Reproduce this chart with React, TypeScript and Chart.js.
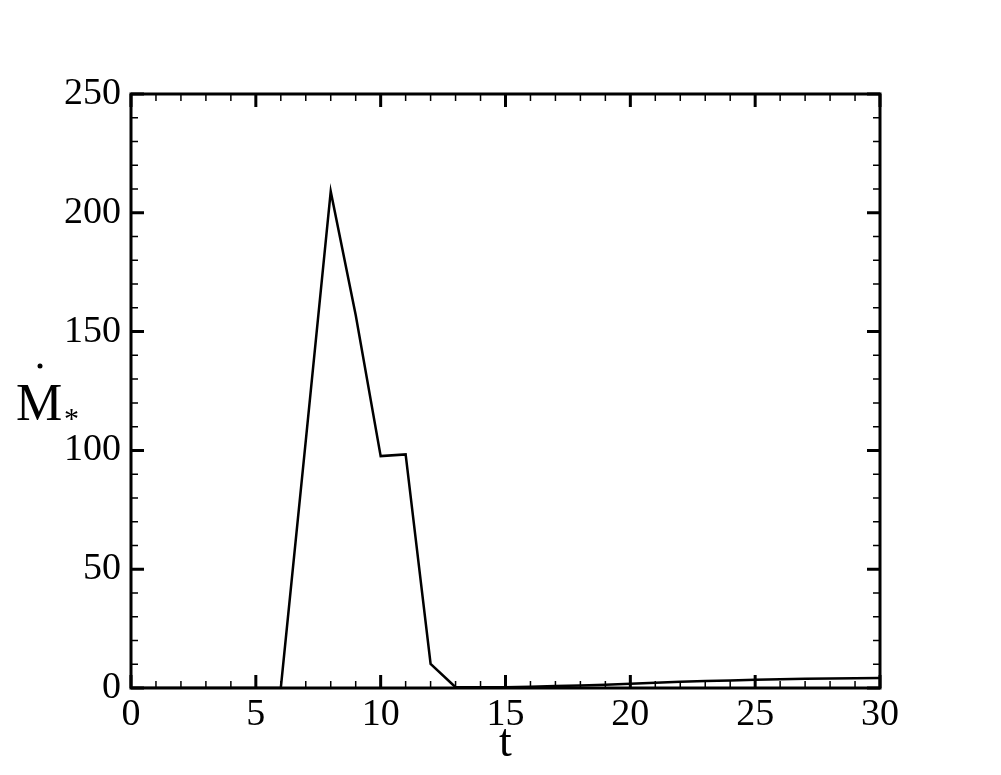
import React, { useEffect, useRef } from "react";
import { Chart, registerables } from "chart.js";

Chart.register(...registerables);

const times: number[] = [0,1,2,3,4,5,6,7,8,9,10,11,12,13,14,15,16,17,18,19,20,21,22,23,24,25,26,27,28,29,30];
const massRate: number[] = [0,0,0,0,0,0,0,104,209,157,97.6,98.3,10.1,0.3,0.3,0.3,0.5,0.8,1.0,1.4,1.8,2.2,2.6,2.9,3.2,3.5,3.7,3.9,4.0,4.1,4.2];
const xTicks: number[] = [0,5,10,15,20,25,30];
const yTicks: number[] = [0,50,100,150,200,250];

const FONT = "'Liberation Serif', 'DejaVu Serif', serif";

const framePlugin = {
  id: "frame",
  afterDraw(chart: any) {
    const ctx = chart.ctx;
    const xs = chart.scales.x;
    const ys = chart.scales.y;
    const L = xs.getPixelForValue(0);
    const R = xs.getPixelForValue(30);
    const T = ys.getPixelForValue(250);
    const B = ys.getPixelForValue(0);
    ctx.save();
    ctx.strokeStyle = "#000";
    ctx.lineWidth = 3;
    ctx.lineCap = "square";
    ctx.strokeRect(L, T, R - L, B - T);
    ctx.lineWidth = 1.5;
    ctx.lineCap = "butt";
    ctx.beginPath();
    for (let v = 0; v <= 30; v++) {
      const p = xs.getPixelForValue(v);
      const len = v % 5 === 0 ? 13 : 7;
      ctx.moveTo(p, B); ctx.lineTo(p, B - len);
      ctx.moveTo(p, T); ctx.lineTo(p, T + len);
    }
    for (let v = 0; v <= 250; v += 10) {
      const p = ys.getPixelForValue(v);
      const len = v % 50 === 0 ? 13 : 7;
      ctx.moveTo(L, p); ctx.lineTo(L + len, p);
      ctx.moveTo(R, p); ctx.lineTo(R - len, p);
    }
    ctx.stroke();
    ctx.lineWidth = 3;
    ctx.beginPath();
    for (const v of xTicks) {
      const p = xs.getPixelForValue(v);
      ctx.moveTo(p, B); ctx.lineTo(p, B - 13);
      ctx.moveTo(p, T); ctx.lineTo(p, T + 13);
    }
    for (const v of yTicks) {
      const p = ys.getPixelForValue(v);
      ctx.moveTo(L, p); ctx.lineTo(L + 13, p);
      ctx.moveTo(R, p); ctx.lineTo(R - 13, p);
    }
    ctx.stroke();

    ctx.fillStyle = "#000";
    ctx.font = `46px ${FONT}`;
    ctx.textAlign = "center";
    ctx.textBaseline = "alphabetic";
    ctx.fillText("t", (L + R) / 2, 756);
    ctx.font = `52px ${FONT}`;
    ctx.textAlign = "left";
    ctx.fillText("M", 16, 420);
    ctx.beginPath();
    ctx.arc(40, 366, 2.5, 0, Math.PI * 2);
    ctx.fill();
    ctx.font = `30px ${FONT}`;
    ctx.fillText("*", 64, 428);
    ctx.restore();
  },
};

export default function App() {
  const ref = useRef<HTMLCanvasElement>(null);
  useEffect(() => {
    document.body.style.margin = "0";
    const chart = new Chart(ref.current!, {
      type: "line",
      data: {
        datasets: [
          {
            data: times.map((t, i) => ({ x: t, y: massRate[i] })),
            borderColor: "#000",
            borderWidth: 2.5,
            pointRadius: 0,
            tension: 0,
            fill: false,
          },
        ],
      },
      options: {
        animation: false,
        responsive: false,
        maintainAspectRatio: false,
        layout: { padding: { left: 0, top: 94, right: 121, bottom: 0 } },
        plugins: { legend: { display: false }, tooltip: { enabled: false } },
        scales: {
          x: {
            type: "linear",
            min: 0,
            max: 30,
            afterFit: (s: any) => { s.height = 87; },
            afterBuildTicks: (s: any) => { s.ticks = xTicks.map((v) => ({ value: v })); },
            grid: { display: false, drawTicks: false },
            border: { display: false },
            ticks: { color: "#000", font: { family: FONT, size: 38 }, padding: 4, maxRotation: 0, autoSkip: false },
          },
          y: {
            type: "linear",
            min: 0,
            max: 250,
            afterFit: (s: any) => { s.width = 131; },
            afterBuildTicks: (s: any) => { s.ticks = yTicks.map((v) => ({ value: v })); },
            grid: { display: false, drawTicks: false },
            border: { display: false },
            ticks: { color: "#000", font: { family: FONT, size: 38 }, padding: 10, autoSkip: false },
          },
        },
      },
      plugins: [framePlugin],
    });
    return () => chart.destroy();
  }, []);
  return <canvas ref={ref} width={1001} height={775} style={{ display: "block" }} />;
}
